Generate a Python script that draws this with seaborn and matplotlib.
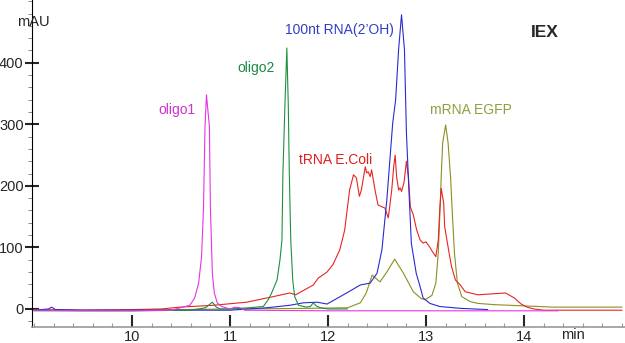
import pandas as pd
import matplotlib
matplotlib.use('Agg')
import matplotlib.pyplot as plt
import seaborn as sns
from matplotlib.ticker import MultipleLocator

sns.set_style('white')
plt.rcParams['font.family'] = ['Liberation Sans', 'DejaVu Sans']

oligo1_t = [9.0, 9.5, 10.0, 10.4, 10.52, 10.59, 10.64, 10.68, 10.71, 10.73, 10.745, 10.76, 10.79,
            10.80, 10.82, 10.84, 10.87, 10.915, 11.0, 11.05, 11.1, 11.15, 12.0, 13.0, 14.35]
oligo1_v = [-2, -3, -3, -2, 3, 6, 18, 42, 85, 166, 296, 348, 296, 166, 58, 26, 10, 4, 0, 3, 2, -2,
            -3, -3, -3]

oligo2_t = [9.0, 10.0, 10.6, 10.75, 10.82, 10.86, 10.9, 11.0, 11.2, 11.34, 11.39, 11.425, 11.48,
            11.51, 11.53, 11.54, 11.56, 11.58, 11.595, 11.605, 11.62, 11.64, 11.66, 11.70, 11.78,
            11.82, 11.85, 11.88, 11.92, 12.0, 12.2]
oligo2_v = [-3, -3, -2, 2, 11, 3, 0, 0, 2, 4, 15, 26, 47, 80, 112, 221, 329, 424, 329, 221, 112, 47,
            20, 6, 3, 4, 10, 5, 2, 0, 0]

rna100_t = [9.0, 9.15, 9.18, 9.22, 9.5, 10.5, 11.0, 11.38, 11.61, 11.75, 11.89, 11.99, 12.19, 12.33,
            12.43, 12.5, 12.55, 12.58, 12.6, 12.66, 12.69, 12.72, 12.75, 12.78, 12.8, 12.83, 12.85,
            12.9, 12.94, 12.97, 13.04, 13.14, 13.35, 13.63]
rna100_v = [-2, 0, 3, -1, -2, -2, -2, 2, 6, 10, 11, 8, 26, 39, 42, 58, 96, 145, 177, 302, 340, 421,
            478, 421, 286, 177, 107, 58, 36, 18, 9, 4, 1, -1]

trna_t = [9.0, 9.5, 10.0, 10.3, 10.49, 10.83, 11.17, 11.44, 11.61, 11.67, 11.85, 11.9, 11.99, 12.05,
          12.12, 12.17, 12.22, 12.26, 12.29, 12.32, 12.34, 12.38, 12.395, 12.41, 12.43, 12.445,
          12.48, 12.51, 12.55, 12.58, 12.615, 12.65, 12.67, 12.685, 12.70, 12.72, 12.735, 12.75,
          12.775, 12.80, 12.82, 12.84, 12.87, 12.905, 12.94, 12.97, 13.0, 13.04, 13.07, 13.10,
          13.125, 13.14, 13.155, 13.18, 13.19, 13.23, 13.26, 13.30, 13.35, 13.40, 13.45, 13.53,
          13.62, 13.72, 13.81, 13.9, 13.97, 14.03, 14.1, 14.2, 15.0]
trna_v = [-1, -2, -1, 0, 3, 6, 11, 20, 26, 23, 39, 50, 60, 72, 96, 128, 193, 218, 213, 183, 193,
          231, 221, 223, 215, 226, 193, 169, 166, 164, 148, 193, 231, 250, 215, 193, 197, 191, 205,
          240, 215, 166, 153, 128, 112, 107, 109, 100, 92, 85, 112, 161, 196, 172, 134, 96, 69, 47,
          39, 28, 26, 23, 24, 25, 26, 18, 8, 3, 0, -2, -2]

mrna_t = [9.0, 10.0, 11.0, 11.8, 12.2, 12.33, 12.39, 12.45, 12.53, 12.6, 12.68, 12.77, 12.87, 12.95,
          12.99, 13.06, 13.10, 13.125, 13.14, 13.155, 13.17, 13.20, 13.225, 13.25, 13.27, 13.29,
          13.32, 13.365, 13.45, 13.53, 13.7, 14.0, 14.3, 15.0]
mrna_v = [-2, -2, 0, 1, 2, 10, 26, 55, 44, 60, 81, 58, 28, 17, 15, 22, 42, 91, 150, 215, 270, 299,
          270, 215, 150, 91, 42, 20, 12, 9, 7, 5, 3, 3]

amostras = ['mRNA EGFP', 'tRNA E.Coli', '100nt RNA(2\u2019OH)', 'oligo2', 'oligo1']
series = {'mRNA EGFP': (mrna_t, mrna_v),
          'tRNA E.Coli': (trna_t, trna_v),
          '100nt RNA(2\u2019OH)': (rna100_t, rna100_v),
          'oligo2': (oligo2_t, oligo2_v),
          'oligo1': (oligo1_t, oligo1_v)}
cores = {'mRNA EGFP': '#8e8e24', 'tRNA E.Coli': '#e8251f', '100nt RNA(2\u2019OH)': '#2b2bd0',
         'oligo2': '#1f8f3f', 'oligo1': '#e633e6'}
cores_texto = {'mRNA EGFP': '#8ea040', 'tRNA E.Coli': '#e02020', '100nt RNA(2\u2019OH)': '#3040c0',
               'oligo2': '#1a8a40', 'oligo1': '#cc33cc'}

# posições dos rótulos (min, mAU)
rotulos = {'oligo1': (10.46, 324), 'oligo2': (11.27, 392), '100nt RNA(2\u2019OH)': (12.12, 454),
           'tRNA E.Coli': (12.08, 242), 'mRNA EGFP': (13.46, 324)}

df = pd.concat([pd.DataFrame({'tempo': series[a][0], 'mAU': series[a][1], 'amostra': a})
                for a in amostras], ignore_index=True)

fig = plt.figure(figsize=(6.25, 3.43), dpi=100)
ax = fig.add_axes([32 / 625, 16 / 343, 593 / 625, 327 / 343])

sns.lineplot(data=df, x='tempo', y='mAU', hue='amostra', hue_order=amostras, palette=cores,
             estimator=None, sort=False, legend=False, linewidth=0.8, ax=ax)

ax.set_xlim(8.98, 15.03)
ax.set_ylim(-29.3, 502)
ax.set_xlabel('')
ax.set_ylabel('')

for a, (x, y) in rotulos.items():
    ax.text(x, y, a, color=cores_texto[a], fontsize=10, ha='center', va='center')

ax.text(14.21, 449, 'IEX', fontsize=12.5, fontweight='bold', ha='center', va='center')
ax.text(8.99, 466, 'mAU', fontsize=10.5, ha='center', va='center', clip_on=False)
ax.text(14.5, -43, 'min', fontsize=10.5, ha='center', va='center', clip_on=False)

ax.xaxis.set_minor_locator(MultipleLocator(0.2))
ax.yaxis.set_minor_locator(MultipleLocator(20))
ax.set_xticks([10, 11, 12, 13, 14])
ax.set_yticks([0, 100, 200, 300, 400])
ax.tick_params(axis='x', which='major', direction='in', length=9, width=1.5, labelsize=10.5, pad=2,
               bottom=True)
ax.tick_params(axis='x', which='minor', direction='in', length=3, width=0.8, color='#999999',
               bottom=True)
ax.tick_params(axis='y', which='major', direction='inout', length=10, width=1.5, labelsize=10.5,
               pad=1, left=True)
ax.tick_params(axis='y', which='minor', direction='out', length=3, width=0.6, color='#777777',
               left=True)

sns.despine(ax=ax, top=True, right=True)
ax.spines['left'].set_color('black')
ax.spines['left'].set_linewidth(0.8)
ax.spines['bottom'].set_color('#999999')
ax.spines['bottom'].set_linewidth(1.2)

fig.savefig('out.png', dpi=100)
